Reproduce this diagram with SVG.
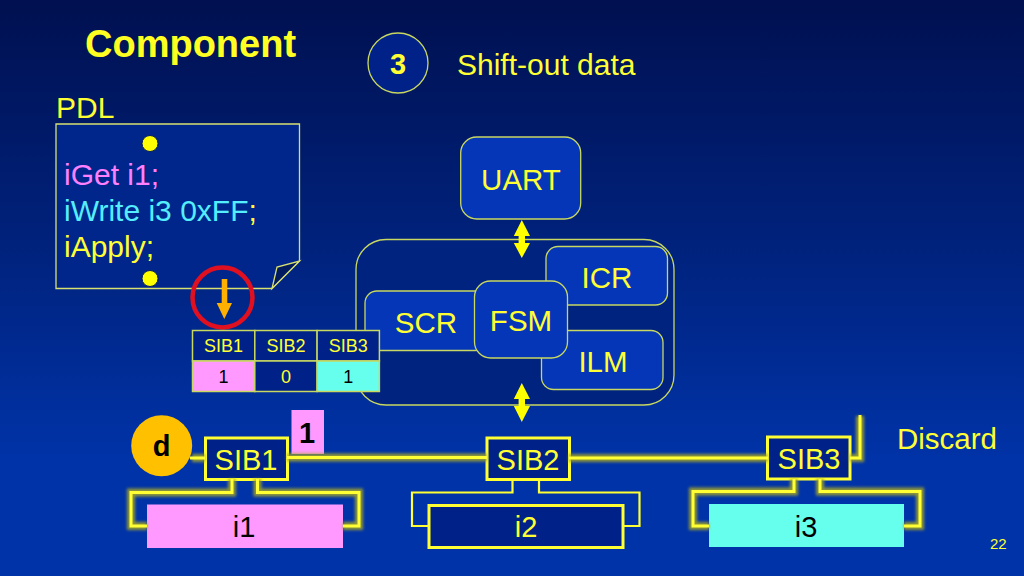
<svg xmlns="http://www.w3.org/2000/svg" width="1024" height="576" viewBox="0 0 1024 576">
<defs>
<linearGradient id="bg" x1="0" y1="0" x2="0" y2="1"><stop offset="0" stop-color="#001050"/><stop offset="0.45" stop-color="#00237f"/><stop offset="0.8" stop-color="#0033a8"/><stop offset="1" stop-color="#0033a8"/></linearGradient>
<filter id="glow" x="-20%" y="-20%" width="140%" height="140%"><feGaussianBlur stdDeviation="1.600"/></filter>
</defs>
<style>
text{font-family:"Liberation Sans",Arial,sans-serif;fill:#ffff33}
.m{text-anchor:middle}
.blk{fill:#0636b8;stroke:#c8d860;stroke-width:1.3}
.sib{fill:#002288;stroke:#ffff33;stroke-width:3}
.wire{fill:none;stroke:#ffff33;stroke-width:3}
.halo{fill:none;stroke:#a8a820;stroke-width:8;opacity:.85;filter:url(#glow)}
.thin{fill:none;stroke:#ffff33;stroke-width:2.2}
.cell{stroke:#c8d860;stroke-width:1.5}
.dbl{fill:#ffff00}
</style>
<rect width="1024" height="576" fill="url(#bg)"/>
<text x="85" y="57" font-size="38" font-weight="bold" style="fill:#ffff22">Component</text>
<g id="step"><circle cx="398" cy="63" r="30" fill="#002288" stroke="#c8d860" stroke-width="1.3"/><text x="398" y="74" font-size="29" font-weight="bold" class="m">3</text></g>
<text x="457" y="75" font-size="30">Shift-out data</text>
<text x="56" y="118" font-size="30">PDL</text>
<g id="note">
<path d="M56 124H299.500V261L272 288.500H56Z" fill="#00268c" stroke="#d8e070" stroke-width="1.300"/>
<path d="M272 288.500L277 267L299.500 261Z" fill="#001a60" stroke="#d8e070" stroke-width="1.300"/>
<circle cx="150" cy="143.500" r="8" fill="#ffff00" stroke="#001a60"/>
<circle cx="150" cy="278.500" r="8" fill="#ffff00" stroke="#001a60"/>
<text x="64" y="185" font-size="30" style="fill:#ff80ff">iGet i1;</text>
<text x="64" y="221" font-size="30" style="fill:#55eeff">iWrite i3 0xFF<tspan style="fill:#ffff33">;</tspan></text>
<text x="64" y="257" font-size="30">iApply;</text>
</g>
<g id="core">
<rect x="356" y="239.500" width="318" height="165.500" rx="30" fill="#00237f" stroke="#c8d860" stroke-width="1.300"/>
</g>
<g id="uart"><rect class="blk" x="460.700" y="137" width="120" height="82" rx="16"/><text x="521" y="190" font-size="29.500" class="m">UART</text></g>
<g id="icr"><rect class="blk" x="546" y="246.500" width="121.500" height="58.500" rx="12"/><text x="607" y="288" font-size="29.500" class="m">ICR</text></g>
<g id="scr"><rect class="blk" x="365" y="291" width="122" height="59.500" rx="12"/><text x="426" y="333" font-size="29.500" class="m">SCR</text></g>
<g id="ilm"><rect class="blk" x="541.500" y="330.500" width="121.500" height="59" rx="12"/><text x="603" y="372" font-size="29.500" class="m">ILM</text></g>
<g id="fsm"><rect class="blk" x="474.500" y="281" width="93" height="77" rx="16"/><text x="521" y="331" font-size="29.500" class="m">FSM</text></g>
<circle id="stop" cx="222.500" cy="297.500" r="30" fill="none" stroke="#e01020" stroke-width="4.500"/>
<g id="table" font-size="18">
<rect class="cell" x="192.500" y="330.500" width="62.300" height="30.500" fill="#002288"/>
<rect class="cell" x="254.800" y="330.500" width="62.300" height="30.500" fill="#002288"/>
<rect class="cell" x="317.100" y="330.500" width="62.300" height="30.500" fill="#002288"/>
<rect class="cell" x="192.500" y="361" width="62.300" height="30.500" fill="#ff99ff"/>
<rect class="cell" x="254.800" y="361" width="62.300" height="30.500" fill="#002288"/>
<rect class="cell" x="317.100" y="361" width="62.300" height="30.500" fill="#66ffee"/>
<text x="223.600" y="352" class="m">SIB1</text><text x="286" y="352" class="m">SIB2</text><text x="348.200" y="352" class="m">SIB3</text>
<text x="223.600" y="383" class="m" style="fill:#000">1</text><text x="286" y="383" class="m">0</text><text x="348.200" y="383" class="m" style="fill:#000">1</text>
</g>
<g id="d"><circle cx="161.700" cy="445.700" r="30.500" fill="#ffc000"/><text x="161.700" y="456" font-size="29" font-weight="bold" class="m" style="fill:#000">d</text></g>
<g id="bit"><rect x="291.500" y="410" width="32.500" height="44" fill="#ff99ff"/><text x="307" y="443" font-size="29" font-weight="bold" class="m" style="fill:#000">1</text></g>
<g id="sib1"><rect class="sib" x="205.500" y="438" width="82" height="41.500"/><text x="246" y="470" font-size="29" class="m">SIB1</text></g>
<g id="sib2"><rect class="sib" x="487" y="438" width="82.500" height="41.500"/><text x="528" y="470" font-size="29" class="m">SIB2</text></g>
<g id="sib3"><rect class="sib" x="767.500" y="437" width="82.500" height="42"/><text x="809" y="469" font-size="29" class="m">SIB3</text></g>
<g id="i1"><rect x="147" y="504.500" width="196" height="43.500" fill="#ff99ff"/><text x="244" y="537" font-size="29" class="m" style="fill:#000">i1</text></g>
<g id="i2"><rect x="429" y="505.500" width="194" height="42" fill="#002288" stroke="#ffff33" stroke-width="3"/><text x="526" y="537" font-size="29" class="m">i2</text></g>
<g id="i3"><rect x="709" y="504" width="195" height="43" fill="#66ffee"/><text x="806" y="537" font-size="29" class="m" style="fill:#000">i3</text></g>
<text x="897" y="449" font-size="29.500">Discard</text>
<text x="990" y="549" font-size="15">22</text>
<g id="connectors">
<path class="dbl" d="M521.800 220L530 236H525V243H530L521.800 258L513.800 243H518.600V236H513.800Z"/>
<path class="dbl" d="M521.800 383L530 399H525V406H530L521.800 422L513.800 406H518.600V399H513.800Z"/>
<path fill="#ffb000" d="M221.700 279H227.300V303H232L224.300 319L216.700 303H221.700Z"/>
<path class="halo" d="M192 458H205M287 457.500H487M569 458H768M850 458H860V416"/>
<path class="halo" d="M232 479V492.500H131V526H147M257.500 479V492.500H359V526H343"/>
<path class="halo" d="M794 479V491.500H693V526H709M820 479V491.500H920V526H904"/>
<path class="wire" d="M190 458H205M287 457.500H487M569 458H768M850 458H860V415"/>
<path class="wire" d="M232 479V492.500H131V526H147M257.500 479V492.500H359V526H343"/>
<path class="wire" d="M794 479V491.500H693V526H709M820 479V491.500H920V526H904"/>
<path class="thin" d="M512.500 479V492.500H412V526H429M539 479V492.500H639.500V526H623"/>
</g>
</svg>
